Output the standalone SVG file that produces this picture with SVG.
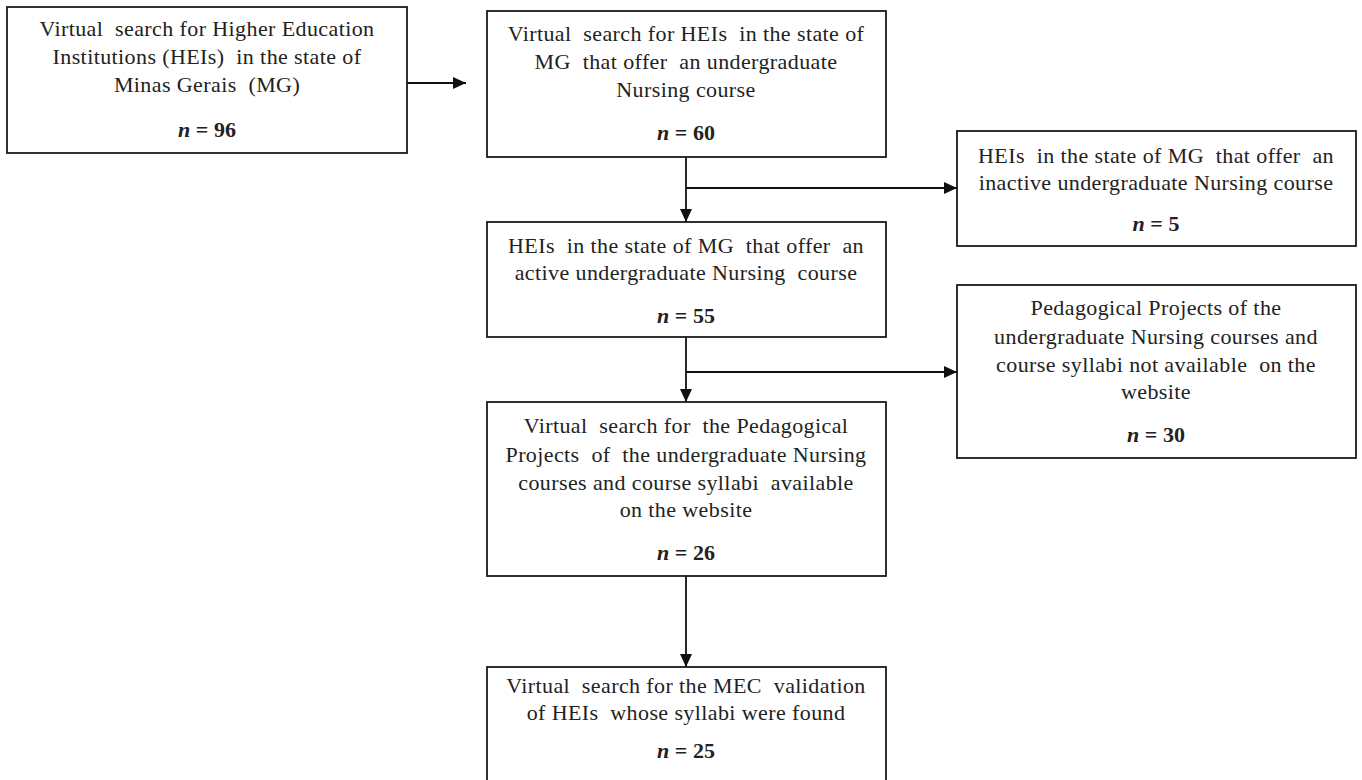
<svg xmlns="http://www.w3.org/2000/svg" width="1362" height="780" viewBox="0 0 1362 780">
<defs>
<marker id="ah" viewBox="0 0 13 12" refX="13" refY="6" markerWidth="13" markerHeight="12" markerUnits="userSpaceOnUse" orient="auto">
<path d="M0,0 L13,6 L0,12 Z" fill="#111"/>
</marker>
<style>
.box{fill:#fff;stroke:#1a1a1a;stroke-width:1.8}
.t{font-family:"Liberation Serif","Times New Roman",serif;font-size:22px;fill:#222;text-anchor:middle;white-space:pre;letter-spacing:0.4px}
.n{font-weight:bold;letter-spacing:0}
.c{stroke:#111;stroke-width:1.8;fill:none}
</style>
</defs>
<rect width="1362" height="780" fill="#fff"/>
<g id="connectors">
<line class="c" x1="407" y1="83" x2="466" y2="83" marker-end="url(#ah)"/>
<line class="c" x1="686" y1="157" x2="686" y2="222" marker-end="url(#ah)"/>
<line class="c" x1="686" y1="188" x2="957" y2="188" marker-end="url(#ah)"/>
<line class="c" x1="686" y1="337" x2="686" y2="402" marker-end="url(#ah)"/>
<line class="c" x1="686" y1="372" x2="957" y2="372" marker-end="url(#ah)"/>
<line class="c" x1="686" y1="576" x2="686" y2="667" marker-end="url(#ah)"/>
</g>
<g id="n1">
<rect class="box" x="7" y="7" width="400" height="146"/>
<text class="t" x="207" y="36">Virtual  search for Higher Education</text>
<text class="t" x="207" y="64">Institutions (HEIs)  in the state of</text>
<text class="t" x="207" y="92">Minas Gerais  (MG)</text>
<text class="t n" x="207" y="137"><tspan font-style="italic">n</tspan> = 96</text>
</g>
<g id="n2">
<rect class="box" x="487" y="11" width="399" height="146"/>
<text class="t" x="686" y="41">Virtual  search for HEIs  in the state of</text>
<text class="t" x="686" y="69">MG  that offer  an undergraduate</text>
<text class="t" x="686" y="97">Nursing course</text>
<text class="t n" x="686" y="140"><tspan font-style="italic">n</tspan> = 60</text>
</g>
<g id="n3">
<rect class="box" x="487" y="222" width="399" height="115"/>
<text class="t" x="686" y="253">HEIs  in the state of MG  that offer  an</text>
<text class="t" x="686" y="280">active undergraduate Nursing  course</text>
<text class="t n" x="686" y="323"><tspan font-style="italic">n</tspan> = 55</text>
</g>
<g id="n4">
<rect class="box" x="957" y="131" width="399" height="115"/>
<text class="t" x="1156" y="163">HEIs  in the state of MG  that offer  an</text>
<text class="t" x="1156" y="190">inactive undergraduate Nursing course</text>
<text class="t n" x="1156" y="231"><tspan font-style="italic">n</tspan> = 5</text>
</g>
<g id="n5">
<rect class="box" x="957" y="285" width="399" height="173"/>
<text class="t" x="1156" y="315">Pedagogical Projects of the</text>
<text class="t" x="1156" y="344">undergraduate Nursing courses and</text>
<text class="t" x="1156" y="372">course syllabi not available  on the</text>
<text class="t" x="1156" y="399">website</text>
<text class="t n" x="1156" y="442"><tspan font-style="italic">n</tspan> = 30</text>
</g>
<g id="n6">
<rect class="box" x="487" y="402" width="399" height="174"/>
<text class="t" x="686" y="433">Virtual  search for  the Pedagogical</text>
<text class="t" x="686" y="462">Projects  of  the undergraduate Nursing</text>
<text class="t" x="686" y="490">courses and course syllabi  available</text>
<text class="t" x="686" y="517">on the website</text>
<text class="t n" x="686" y="560"><tspan font-style="italic">n</tspan> = 26</text>
</g>
<g id="n7">
<rect class="box" x="487" y="667" width="399" height="120"/>
<text class="t" x="686" y="693">Virtual  search for the MEC  validation</text>
<text class="t" x="686" y="720">of HEIs  whose syllabi were found</text>
<text class="t n" x="686" y="758"><tspan font-style="italic">n</tspan> = 25</text>
</g>
</svg>
